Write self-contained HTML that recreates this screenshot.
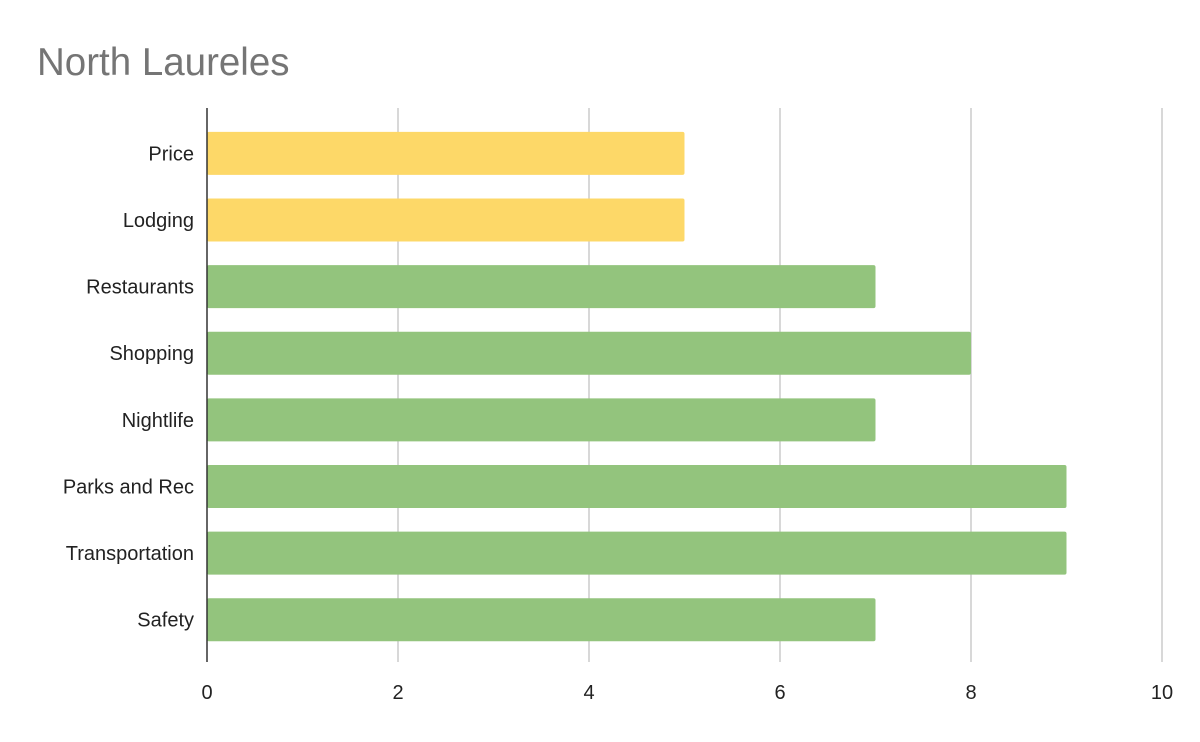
<!DOCTYPE html>
<html><head><meta charset="utf-8"><style>
body{margin:0;background:#fff;}
svg{display:block;font-family:"Liberation Sans",Arial,sans-serif;}
</style></head><body>
<svg id="chart" width="1200" height="742">
<rect width="1200" height="742" fill="#fff"/>
<text x="37" y="75" font-size="38.5" fill="#757575">North Laureles</text>
<g id="grid"></g><g id="bars"></g><g id="labels"></g>
<line x1="207" y1="108" x2="207" y2="662" stroke="#333" stroke-width="1.5"/>
</svg>
<script>
const categories=["Price","Lodging","Restaurants","Shopping","Nightlife","Parks and Rec","Transportation","Safety"];
const values=[5,5,7,8,7,9,9,7];
const colors=["#fdd868","#fdd868","#93c47d","#93c47d","#93c47d","#93c47d","#93c47d","#93c47d"];
const ticks=[0,2,4,6,8,10];
const ns="http://www.w3.org/2000/svg";
const x0=207,x1=1162,plotTop=120,plotBot=653;
const xs=v=>x0+(x1-x0)*v/10;
const band=(plotBot-plotTop)/categories.length;
const g=document.getElementById('grid'),b=document.getElementById('bars'),l=document.getElementById('labels');
ticks.forEach(t=>{
 if(t>0){const ln=document.createElementNS(ns,'line');
 ln.setAttribute('x1',xs(t));ln.setAttribute('x2',xs(t));ln.setAttribute('y1',108);ln.setAttribute('y2',662);
 ln.setAttribute('stroke','#cccccc');ln.setAttribute('stroke-width','1.5');
 
 
 g.appendChild(ln);}
 const tx=document.createElementNS(ns,'text');
 tx.setAttribute('x',xs(t));tx.setAttribute('y',699);tx.setAttribute('text-anchor','middle');
 tx.setAttribute('font-size','20');tx.setAttribute('fill','#222');tx.textContent=t;
 
 
 l.appendChild(tx);
});
categories.forEach((c,i)=>{
 const cy=plotTop+band*(i+0.5);
 const r=document.createElementNS(ns,'rect');
 r.setAttribute('x',x0);r.setAttribute('y',cy-21.5);r.setAttribute('width',xs(values[i])-x0);r.setAttribute('height',43);
 r.setAttribute('fill',colors[i]);r.setAttribute('rx','2');
 
 
 b.appendChild(r);
 const tx=document.createElementNS(ns,'text');
 tx.setAttribute('x',194);tx.setAttribute('y',cy+7);tx.setAttribute('text-anchor','end');
 tx.setAttribute('font-size','20');tx.setAttribute('fill','#222');tx.textContent=c;
 
 
 l.appendChild(tx);
});
</script>
</body></html>
